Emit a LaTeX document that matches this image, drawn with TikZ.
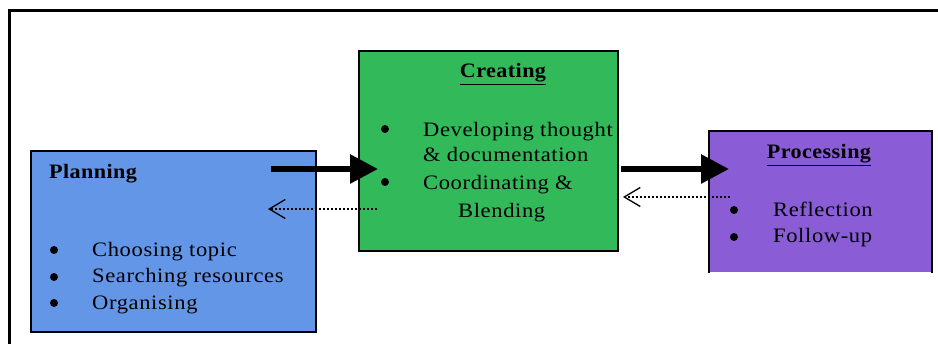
\documentclass[tikz,border=0pt]{standalone}
\usepackage{fontspec}
\setmainfont{Liberation Serif}
\usetikzlibrary{arrows.meta}

\definecolor{planblue}{RGB}{100,150,232}
\definecolor{creategreen}{RGB}{50,185,90}
\definecolor{procpurple}{RGB}{138,92,214}

\tikzset{
  box/.style={rectangle, draw=black, line width=2pt, anchor=north west, inner sep=0pt},
  txt/.style={anchor=base west, inner sep=0pt,
    font=\fontsize{20.5}{24}\selectfont\addfontfeature{FakeStretch=1.1,LetterSpace=3}},
  head/.style={anchor=base, inner sep=0pt,
    font=\fontsize{20.5}{24}\selectfont\bfseries\addfontfeature{FakeStretch=1.08,LetterSpace=2}},
  dot/.style={circle, fill=black, inner sep=0pt, minimum size=8pt},
  thickarrow/.style={line width=6pt, -{Triangle[length=28pt,width=28pt]}},
  backarrow/.style={line width=1.4pt, dash pattern=on 2.5pt off 1.5pt,
    -{Straight Barb[length=16pt,width=19pt,line width=1.3pt]}},
}

\begin{document}
\begin{tikzpicture}[x=1pt,y=-1pt]
\useasboundingbox (0,0) rectangle (938,344);

% outer frame (top and left edges)
\draw[line width=3pt] (9.5,344) -- (9.5,10.5) -- (938,10.5);

% stage boxes
\node[box, fill=planblue, minimum width=285pt, minimum height=181pt] (plan) at (30,150) {};
\node[box, fill=creategreen, minimum width=259pt, minimum height=200pt] (create) at (358,50) {};
\node[box, draw=none, fill=procpurple, minimum width=221pt, minimum height=140pt] (proc) at (709,131) {};
\draw[line width=2pt] (proc.south west) -- (proc.north west) -- (proc.north east) -- (proc.south east);

% Planning
\node[head, anchor=base west] (planT) at (49,179) {Planning};
\node[dot] (pb1) at (54,250) {};
\node[dot] (pb2) at (54,277) {};
\node[dot] (pb3) at (54,303) {};
\node[txt] (pt1) at (92,257) {Choosing topic};
\node[txt] (pt2) at (92,283) {Searching resources};
\node[txt] (pt3) at (92,310) {Organising};

% Creating
\node[head] (createT) at (503,78) {\underline{Creating}};
\node[dot] (cb1) at (385,129) {};
\node[dot] (cb2) at (385,182) {};
\node[txt] (ct1) at (423,137) {Developing thought};
\node[txt] (ct2) at (423,162) {\& documentation};
\node[txt] (ct3) at (423,190) {Coordinating \&};
\node[txt] (ct4) at (458,218) {Blending};

% Processing
\node[head] (procT) at (819,159) {\underline{Processing}};
\node[dot] (rb1) at (734,210) {};
\node[dot] (rb2) at (734,237) {};
\node[txt] (rt1) at (773,217) {Reflection};
\node[txt] (rt2) at (773,243) {Follow-up};

% connector end points
\coordinate (planOut) at (271,169);
\coordinate (createIn) at (378,169);
\coordinate (createOut) at (621,169);
\coordinate (procIn) at (729,169);
\coordinate (createBack) at (377,209);
\coordinate (planBack) at (268,209);
\coordinate (procBack) at (730,197);
\coordinate (createBackIn) at (623,197);

% forward flow
\draw[thickarrow] (planOut) -- (createIn);
\draw[thickarrow] (createOut) -- (procIn);

% feedback flow
\draw[backarrow] (createBack) -- (planBack);
\draw[backarrow] (procBack) -- (createBackIn);
\end{tikzpicture}
\end{document}
